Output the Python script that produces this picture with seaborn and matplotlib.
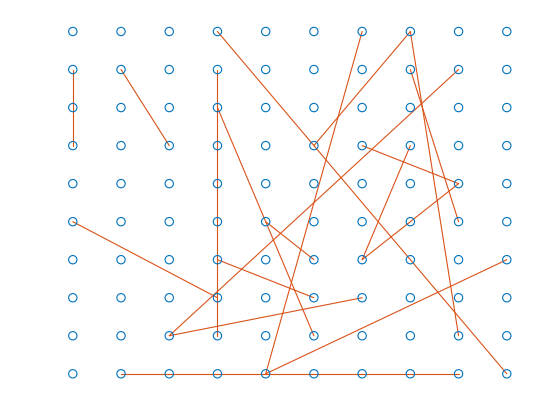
import matplotlib
matplotlib.use("Agg")
import matplotlib.pyplot as plt
import seaborn as sns
import numpy as np
import pandas as pd

grid_x = list(range(10))
grid_y = list(range(10))
seg_x1 = [0, 1, 3, 3, 3, 6, 7, 7, 7, 8, 6, 8, 7, 4, 0, 3, 2, 4, 1]
seg_y1 = [8, 8, 9, 8, 7, 9, 9, 9, 8, 8, 6, 5, 6, 4, 4, 3, 1, 0, 0]
seg_x2 = [0, 2, 9, 3, 5, 4, 5, 8, 8, 2, 8, 6, 6, 5, 3, 5, 6, 9, 8]
seg_y2 = [6, 6, 0, 1, 1, 0, 6, 1, 4, 1, 5, 3, 3, 3, 2, 2, 2, 3, 0]

sns.set_style("white")
fig = plt.figure(figsize=(5.6, 4.2), dpi=100)
ax = fig.add_axes([0.13, 0.11, 0.775, 0.815])
gx, gy = np.meshgrid(grid_x, grid_y)
pts = pd.DataFrame({"x": gx.ravel(), "y": gy.ravel()})
for a, b, c, d in zip(seg_x1, seg_y1, seg_x2, seg_y2):
    ax.plot([a, c], [b, d], color="#D95319", lw=0.8, clip_on=False)
sns.scatterplot(data=pts, x="x", y="y", ax=ax, marker="o", s=36,
                facecolors="none", edgecolor="#0072BD", linewidth=0.8,
                clip_on=False, zorder=3)
ax.set_xlim(0, 9)
ax.set_ylim(0, 9)
ax.axis("off")
fig.savefig("out.png", dpi=100)
